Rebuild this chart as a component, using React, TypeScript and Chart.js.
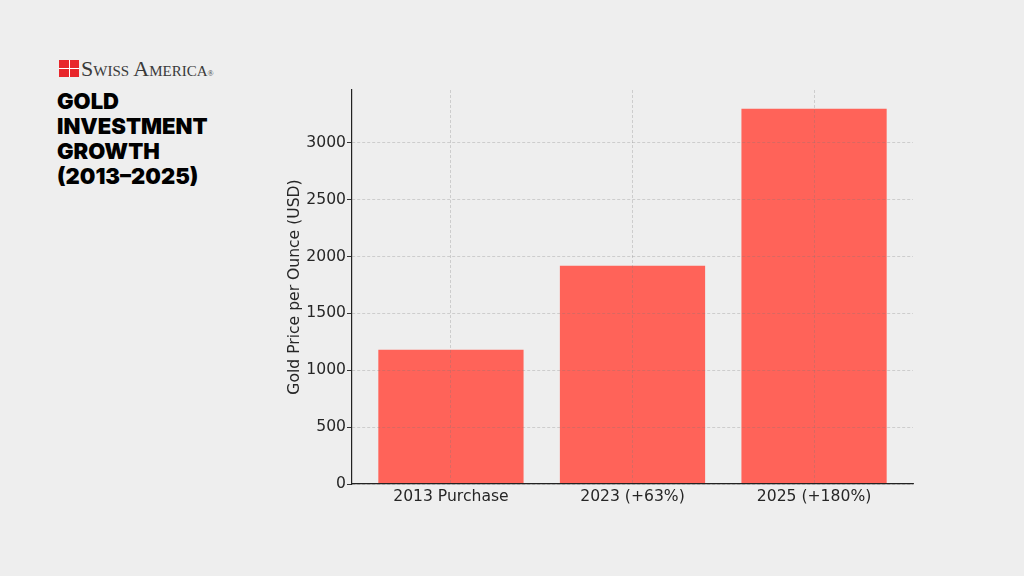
import React, { useEffect, useRef } from "react";
import { Chart, registerables } from "chart.js";

Chart.register(...registerables);

const categories: string[] = ["2013 Purchase", "2023 (+63%)", "2025 (+180%)"];
const prices: number[] = [1180, 1920, 3300];
const yTicks: number[] = [0, 500, 1000, 1500, 2000, 2500, 3000];
const titleLines: string[] = ["GOLD", "INVESTMENT", "GROWTH", "(2013–2025)"];
const brandName = "Swiss America";
const yAxisTitle = "Gold Price per Ounce (USD)";

const BG = "#eeeeee";
const BAR = "rgb(255,99,89)";
const TEXT = "#262626";
const GRID = "rgba(120,120,120,0.35)";

export default function App() {
  const ref = useRef<HTMLCanvasElement | null>(null);

  useEffect(() => {
    if (!ref.current) return;
    const font = { family: "'DejaVu Sans', sans-serif", size: 15.6 };
    const chart = new Chart(ref.current, {
      type: "bar",
      data: {
        datasets: [
          {
            data: prices.map((v, i) => ({ x: i, y: v })),
            backgroundColor: BAR,
            borderWidth: 0,
            categoryPercentage: 1,
            barPercentage: 0.8,
          },
        ],
      },
      options: {
        animation: false,
        responsive: false,
        maintainAspectRatio: false,
        layout: { padding: { left: 280, top: 90, right: 111, bottom: 52 } },
        plugins: { legend: { display: false }, tooltip: { enabled: false } },
        scales: {
          x: {
            type: "linear",
            offset: false,
            min: -0.545,
            max: 2.545,
            afterBuildTicks: (s: any) => {
              s.ticks = categories.map((_, i) => ({ value: i }));
            },
            afterFit: (s: any) => {
              s.height = 40;
            },
            ticks: {
              font,
              color: TEXT,
              padding: 4,
              autoSkip: false,
              maxRotation: 0,
              callback: (v: any) => categories[Math.round(Number(v))] ?? "",
            },
            grid: {
              display: true,
              offset: false,
              color: GRID,
              drawTicks: false,
              lineWidth: 0.8,
              z: 1,
            },
            border: { display: true, color: "#222", width: 1.2, dash: [3, 2], z: 2 },
          },
          y: {
            type: "linear",
            min: 0,
            max: 3465,
            afterBuildTicks: (s: any) => {
              s.ticks = yTicks.map((v) => ({ value: v }));
            },
            afterFit: (s: any) => {
              s.width = 72;
            },
            ticks: { font, color: TEXT, padding: 1, callback: (v: any) => String(v) },
            grid: {
              display: true,
              color: GRID,
              drawTicks: true,
              tickLength: 5,
              tickColor: "#333",
              tickWidth: 1,
              lineWidth: 0.8,
              z: 1,
            },
            border: { display: true, color: "#222", width: 1.2, dash: [3, 2], z: 2 },
            title: {
              display: true,
              text: yAxisTitle,
              font,
              color: TEXT,
              padding: { top: 6, bottom: 0 },
            },
          },
        },
      } as any,
    });
    return () => chart.destroy();
  }, []);

  return (
    <div
      style={{
        position: "fixed",
        left: 0,
        top: 0,
        width: 1024,
        height: 576,
        background: BG,
        overflow: "hidden",
      }}
    >
      <div style={{ position: "absolute", left: 58, top: 60, width: 21, height: 17 }}>
        <div style={{ position: "absolute", left: 1, top: 0, width: 20, height: 17, background: "#e8262b" }} />
        <div style={{ position: "absolute", left: 11, top: 0, width: 1, height: 17, background: "#fff" }} />
        <div style={{ position: "absolute", left: 1, top: 8, width: 20, height: 1, background: "#fff" }} />
      </div>
      <div
        style={{
          position: "absolute",
          left: 81,
          top: 57,
          fontFamily: "'Liberation Serif', 'DejaVu Serif', serif",
          fontVariant: "small-caps",
          fontSize: 22,
          lineHeight: "24px",
          color: "#3a3a3a",
          whiteSpace: "nowrap",
        }}
      >
        {brandName}
        <span style={{ fontSize: 8, verticalAlign: "baseline" }}>®</span>
      </div>
      <div
        style={{
          position: "absolute",
          left: 57,
          top: 89,
          fontFamily: "Inter, 'Noto Sans', sans-serif",
          fontWeight: 900,
          fontSize: 22,
          lineHeight: "25px",
          color: "#000",
          whiteSpace: "nowrap",
        }}
      >
        {titleLines.map((l) => (
          <div key={l}>{l}</div>
        ))}
      </div>
      <canvas
        ref={ref}
        width={1024}
        height={576}
        style={{ position: "absolute", left: 0, top: 0, width: 1024, height: 576 }}
      />
    </div>
  );
}
